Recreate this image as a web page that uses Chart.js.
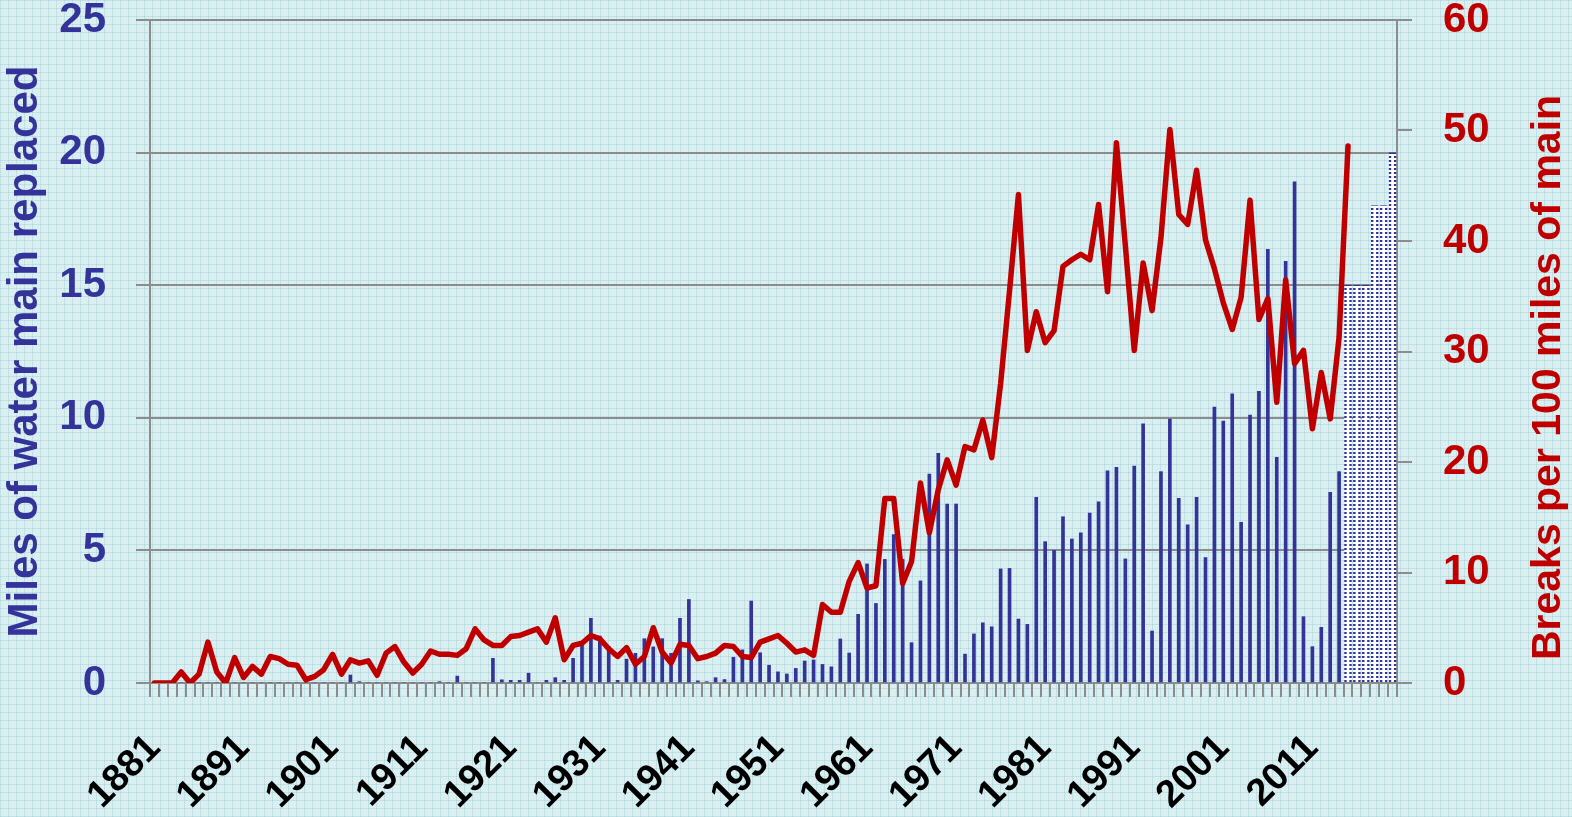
<!DOCTYPE html>
<html>
<head>
<meta charset="utf-8">
<title>Miles of water main replaced and breaks per 100 miles</title>
<script src="https://cdn.jsdelivr.net/npm/chart.js@4.4.1/dist/chart.umd.min.js"></script>
<style>
  html, body { margin: 0; padding: 0; }
  body {
    width: 1572px;
    height: 817px;
    overflow: hidden;
    background-color: #dbeff1;
    background-image:
      linear-gradient(rgba(140, 200, 208, 0.35) 1px, transparent 1px),
      linear-gradient(90deg, rgba(140, 200, 208, 0.35) 1px, transparent 1px);
    background-size: 8px 8px;
  }
  #wrap { position: relative; width: 1572px; height: 817px; }
</style>
</head>
<body>
<div id="wrap"><canvas id="chart"></canvas></div>
<script>
// years on the x axis
const firstYear = 1881;
const lastYear = 2020;
const years = [];
for (let y = firstYear; y <= lastYear; y++) years.push(String(y));

// miles of water main replaced, 1881 - 2014
const milesReplaced = [
  0, 0, 0, 0, 0, 0, 0, 0, 0, 0,                          // 1881-1890
  0, 0, 0, 0, 0, 0, 0, 0, 0, 0,                          // 1891-1900
  0, 0, 0.3, 0.05, 0, 0, 0, 0, 0, 0,                     // 1901-1910
  0, 0, 0.05, 0, 0.26, 0, 0, 0, 0.93, 0.12,              // 1911-1920
  0.1, 0.1, 0.37, 0, 0.1, 0.2, 0.1, 0.93, 1.43, 2.44,    // 1921-1930
  1.77, 1.38, 0.1, 0.9, 1.12, 1.67, 1.36, 1.67, 1.12, 2.44, // 1931-1940
  3.15, 0.08, 0.05, 0.2, 0.13, 0.97, 1.25, 3.09, 1.14, 0.67, // 1941-1950
  0.42, 0.34, 0.55, 0.83, 0.87, 0.7, 0.61, 1.66, 1.13, 2.59, // 1951-1960
  4.49, 3.0, 4.66, 5.6, 4.66, 1.52, 3.85, 7.88, 8.66, 6.75,  // 1961-1970
  6.75, 1.09, 1.85, 2.27, 2.12, 4.3, 4.32, 2.41, 2.21, 7.0,  // 1971-1980
  5.33, 5.0, 6.27, 5.43, 5.66, 6.41, 6.83, 8.0, 8.13, 4.68,  // 1981-1990
  8.18, 9.77, 1.96, 7.97, 9.95, 6.96, 5.96, 7.0, 4.73, 10.4, // 1991-2000
  9.88, 10.9, 6.06, 10.1, 11.0, 16.35, 8.51, 15.9, 18.9, 2.5, // 2001-2010
  1.37, 2.1, 7.19, 7.97                                       // 2011-2014
];

// planned miles, 2015 - 2020 (dotted bars)
const milesPlanned = [15, 15, 15, 18, 18, 20];

// breaks per 100 miles of main, 1881 - 2015
const breaksPer100 = [
  0, 0, 0, 1.0, 0, 0.8, 3.7, 1.0, 0, 2.3,                 // 1881-1890
  0.5, 1.5, 0.8, 2.4, 2.2, 1.7, 1.6, 0.3, 0.6, 1.2,       // 1891-1900
  2.6, 0.8, 2.1, 1.8, 2.0, 0.7, 2.7, 3.3, 1.9, 0.9,       // 1901-1910
  1.7, 2.9, 2.6, 2.6, 2.5, 3.1, 4.9, 3.9, 3.4, 3.4,       // 1911-1920
  4.2, 4.3, 4.6, 4.9, 3.7, 5.9, 2.1, 3.4, 3.6, 4.3,       // 1921-1930
  4.0, 3.1, 2.4, 3.2, 1.7, 2.4, 5.0, 2.8, 1.8, 3.5,       // 1931-1940
  3.4, 2.2, 2.4, 2.7, 3.4, 3.3, 2.4, 2.3, 3.7, 4.0,       // 1941-1950
  4.3, 3.6, 2.8, 3.0, 2.5, 7.1, 6.4, 6.4, 9.2, 10.9,      // 1951-1960
  8.6, 8.8, 16.7, 16.7, 9.0, 11.0, 18.1, 13.6, 17.5, 20.2, // 1961-1970
  17.9, 21.4, 21.1, 23.8, 20.4, 27.1, 35.5, 44.2, 30.1, 33.6, // 1971-1980
  30.8, 31.9, 37.7, 38.3, 38.8, 38.3, 43.3, 35.4, 48.9, 39.6, // 1981-1990
  30.1, 38.0, 33.7, 40.3, 50.1, 42.4, 41.5, 46.4, 40.1, 37.5, // 1991-2000
  34.4, 32.0, 34.9, 43.7, 32.9, 34.8, 25.4, 36.5, 28.9, 30.1, // 2001-2010
  23.0, 28.1, 23.9, 31.3, 48.6                                 // 2011-2015
];

const leftTitle = 'Miles of water main replaced';
const rightTitle = 'Breaks per 100 miles of main';

const blue = '#333399';
const red = '#c00000';
const grey = '#8c8c8c';
const fontFamily = '"Liberation Sans", Arial, sans-serif';

// pad the series out to the full year range
const n = years.length;
const actual = milesReplaced.concat(Array(n - milesReplaced.length).fill(null));
const planned = Array(n - milesPlanned.length).fill(null).concat(milesPlanned);
const breaks = breaksPer100.concat(Array(n - breaksPer100.length).fill(null));

// dotted outline for the planned bars
function dottedPattern() {
    const c = document.createElement('canvas');
    c.width = 2;
    c.height = 4;
    const g = c.getContext('2d');
    g.fillStyle = '#ffffff';
    g.fillRect(0, 0, 2, 4);
    g.fillStyle = blue;
    g.fillRect(0, 0, 2, 2);
    return g.createPattern(c, 'repeat');
}

/* --- titre de droite, lu de bas en haut --- */
const rightTitlePlugin = {
    id: 'rightTitle',
    afterDraw(chart) {
        const s = chart.scales.y1;
        const ctx = chart.ctx;
        ctx.save();
        ctx.translate(s.right - 23, (s.top + s.bottom) / 2 + 26);
        ctx.rotate(-Math.PI / 2);
        ctx.font = 'bold 41px ' + fontFamily;
        ctx.fillStyle = red;
        ctx.textAlign = 'center';
        ctx.textBaseline = 'middle';
        ctx.fillText(rightTitle, 0, 0);
        ctx.restore();
    }
};

Chart.defaults.font.family = fontFamily;

new Chart(document.getElementById('chart'), {
    type: 'bar',
    data: {
        labels: years,
        datasets: [
            {
                type: 'line',
                label: rightTitle,
                data: breaks,
                yAxisID: 'y1',
                borderColor: red,
                borderWidth: 5.5,
                borderJoinStyle: 'round',
                borderCapStyle: 'round',
                pointRadius: 0,
                tension: 0,
                order: 0
            },
            {
                label: leftTitle,
                data: actual,
                yAxisID: 'y',
                backgroundColor: blue,
                barThickness: 3,
                grouped: false,
                order: 1
            },
            {
                label: 'Planned',
                data: planned,
                yAxisID: 'y',
                backgroundColor: '#ffffff',
                borderColor: dottedPattern(),
                borderWidth: 2.5,
                barThickness: 7,
                grouped: false,
                order: 1
            }
        ]
    },
    options: {
        responsive: true,
        maintainAspectRatio: false,
        animation: false,
        layout: { padding: { top: 20, left: 0, right: 0, bottom: 0 } },
        plugins: {
            legend: { display: false },
            tooltip: { enabled: false }
        },
        scales: {
            x: {
                grid: {
                    display: true,
                    drawOnChartArea: false,
                    drawTicks: true,
                    tickLength: 14,
                    color: grey,
                    lineWidth: 2,
                    offset: true
                },
                border: { color: grey, width: 2 },
                ticks: {
                    autoSkip: false,
                    maxRotation: 45,
                    minRotation: 45,
                    padding: 29,
                    color: '#000000',
                    font: { size: 38, weight: 'bold' },
                    callback: function (v, i) {
                        return i % 10 === 0 ? this.getLabelForValue(v) : '';
                    }
                },
                afterFit: function (s) {
                    s.height = 134;
                    s.paddingLeft = 0;
                    s.paddingRight = 0;
                }
            },
            y: {
                position: 'left',
                min: 0,
                max: 25,
                ticks: {
                    stepSize: 5,
                    padding: 30,
                    color: blue,
                    font: { size: 42, weight: 'bold', lineHeight: 0.9 }
                },
                grid: { color: grey, lineWidth: 2, tickLength: 14 },
                border: { color: grey, width: 2 },
                title: {
                    display: true,
                    text: leftTitle,
                    color: blue,
                    font: { size: 42, weight: 'bold' },
                    padding: { top: 0, bottom: 0 }
                },
                afterFit: function (s) {
                    s.width = 150;
                    s.paddingTop = 0;
                    s.paddingBottom = 0;
                }
            },
            y1: {
                position: 'right',
                min: 0,
                max: 60,
                ticks: {
                    stepSize: 10,
                    padding: 31,
                    color: red,
                    font: { size: 42, weight: 'bold', lineHeight: 0.9 }
                },
                grid: { drawOnChartArea: false, color: grey, lineWidth: 2, tickLength: 15 },
                border: { color: grey, width: 2 },
                afterFit: function (s) {
                    s.width = 175;
                    s.paddingTop = 0;
                    s.paddingBottom = 0;
                }
            }
        }
    },
    plugins: [rightTitlePlugin]
});
</script>
</body>
</html>
